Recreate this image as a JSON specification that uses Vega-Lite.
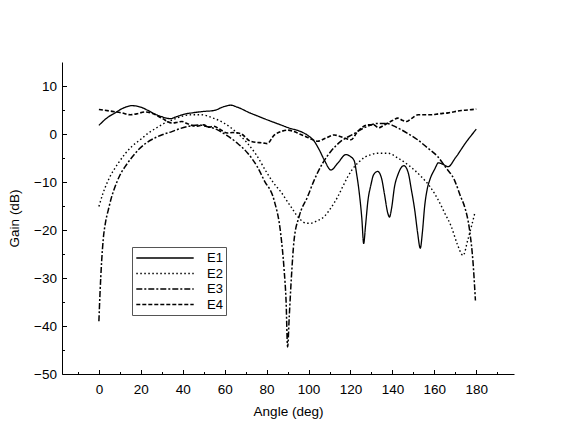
{
  "$schema": "https://vega.github.io/schema/vega-lite/v6.json",
  "width": 452,
  "height": 312,
  "autosize": "none",
  "padding": {"left": 62, "top": 62, "right": 52, "bottom": 54},
  "background": "white",
  "config": {
    "view": {"stroke": null},
    "font": "Liberation Sans",
    "axis": {
      "grid": false,
      "domainColor": "black",
      "tickColor": "black",
      "labelColor": "black",
      "titleColor": "black",
      "labelFont": "Liberation Sans",
      "titleFont": "Liberation Sans",
      "labelFontSize": 13.5,
      "titleFontSize": 13.5,
      "titleFontWeight": "normal"
    },
    "legend": {
      "orient": "none",
      "legendX": 70,
      "legendY": 185,
      "symbolType": "M-4.1,0H4.1",
      "symbolSize": 196,
      "symbolOffset": 22,
      "symbolStrokeColor": "black",
      "strokeColor": "#555",
      "padding": 3,
      "rowPadding": 0.5,
      "labelFont": "Liberation Sans",
      "labelFontSize": 13,
      "labelColor": "black",
      "labelOffset": 34
    }
  },
  "data": {
    "values": [
      {"s": "E1", "a": 0, "g": 1.8}, {"s": "E1", "a": 4, "g": 3.4}, {"s": "E1", "a": 7.7, "g": 4.4}, {"s": "E1", "a": 11.6, "g": 5.4},
      {"s": "E1", "a": 15.7, "g": 5.9}, {"s": "E1", "a": 20, "g": 5.6}, {"s": "E1", "a": 23, "g": 5.0}, {"s": "E1", "a": 27, "g": 4.1},
      {"s": "E1", "a": 30, "g": 3.6}, {"s": "E1", "a": 34, "g": 3.2}, {"s": "E1", "a": 37, "g": 3.6}, {"s": "E1", "a": 40.4, "g": 4.1},
      {"s": "E1", "a": 44.4, "g": 4.4}, {"s": "E1", "a": 50, "g": 4.7}, {"s": "E1", "a": 55, "g": 4.9}, {"s": "E1", "a": 59.6, "g": 5.7},
      {"s": "E1", "a": 62.8, "g": 6.0}, {"s": "E1", "a": 66, "g": 5.6}, {"s": "E1", "a": 72, "g": 4.4}, {"s": "E1", "a": 76, "g": 3.7},
      {"s": "E1", "a": 80, "g": 3.0}, {"s": "E1", "a": 86.7, "g": 1.9}, {"s": "E1", "a": 91, "g": 1.2}, {"s": "E1", "a": 96.3, "g": 0.5},
      {"s": "E1", "a": 100, "g": -0.4}, {"s": "E1", "a": 102.7, "g": -1.5}, {"s": "E1", "a": 105, "g": -3.2}, {"s": "E1", "a": 107.5, "g": -5.4},
      {"s": "E1", "a": 110.7, "g": -7.5}, {"s": "E1", "a": 113.9, "g": -6.1}, {"s": "E1", "a": 117.8, "g": -4.3}, {"s": "E1", "a": 120, "g": -4.7},
      {"s": "E1", "a": 121.8, "g": -5.6}, {"s": "E1", "a": 123, "g": -8.5}, {"s": "E1", "a": 124.2, "g": -12.3}, {"s": "E1", "a": 125.4, "g": -17.5},
      {"s": "E1", "a": 126.3, "g": -22.8}, {"s": "E1", "a": 127.2, "g": -19}, {"s": "E1", "a": 128.3, "g": -14}, {"s": "E1", "a": 129.8, "g": -10.5},
      {"s": "E1", "a": 131, "g": -8.5}, {"s": "E1", "a": 133, "g": -7.8}, {"s": "E1", "a": 134.8, "g": -9.2}, {"s": "E1", "a": 136.2, "g": -12.5},
      {"s": "E1", "a": 137.8, "g": -16.5}, {"s": "E1", "a": 138.6, "g": -17.3}, {"s": "E1", "a": 139.6, "g": -15.5}, {"s": "E1", "a": 141, "g": -11},
      {"s": "E1", "a": 142.6, "g": -8.5}, {"s": "E1", "a": 145.5, "g": -6.6}, {"s": "E1", "a": 147.5, "g": -8}, {"s": "E1", "a": 149, "g": -11.5},
      {"s": "E1", "a": 150.7, "g": -16}, {"s": "E1", "a": 152, "g": -20.5}, {"s": "E1", "a": 153.3, "g": -23.8}, {"s": "E1", "a": 154.3, "g": -20.5},
      {"s": "E1", "a": 155.4, "g": -15}, {"s": "E1", "a": 156.6, "g": -11.5}, {"s": "E1", "a": 157.8, "g": -9.6}, {"s": "E1", "a": 160.2, "g": -7.3},
      {"s": "E1", "a": 162, "g": -6.0}, {"s": "E1", "a": 164, "g": -6.3}, {"s": "E1", "a": 166.6, "g": -6.8}, {"s": "E1", "a": 170, "g": -5.0},
      {"s": "E1", "a": 175, "g": -1.8}, {"s": "E1", "a": 180, "g": 1.0},

      {"s": "E2", "a": 0, "g": -15.1}, {"s": "E2", "a": 2, "g": -12.3}, {"s": "E2", "a": 4.5, "g": -9.6}, {"s": "E2", "a": 9.2, "g": -6.1},
      {"s": "E2", "a": 15.7, "g": -2.6}, {"s": "E2", "a": 20, "g": -1.1}, {"s": "E2", "a": 23.6, "g": 0.2}, {"s": "E2", "a": 27.6, "g": 1.3},
      {"s": "E2", "a": 31.6, "g": 2.3}, {"s": "E2", "a": 35.5, "g": 3.0}, {"s": "E2", "a": 39.6, "g": 3.7}, {"s": "E2", "a": 44, "g": 4.0},
      {"s": "E2", "a": 49.2, "g": 4.0}, {"s": "E2", "a": 54, "g": 3.4}, {"s": "E2", "a": 59.6, "g": 2.3}, {"s": "E2", "a": 65, "g": 0.6},
      {"s": "E2", "a": 70.8, "g": -1.9}, {"s": "E2", "a": 75, "g": -4.3}, {"s": "E2", "a": 80.3, "g": -8.2}, {"s": "E2", "a": 83.5, "g": -10.3},
      {"s": "E2", "a": 86.7, "g": -12.0}, {"s": "E2", "a": 91.5, "g": -15.1}, {"s": "E2", "a": 96.3, "g": -17.9}, {"s": "E2", "a": 99, "g": -18.6},
      {"s": "E2", "a": 101, "g": -18.6}, {"s": "E2", "a": 104, "g": -18.1}, {"s": "E2", "a": 107.5, "g": -17.2}, {"s": "E2", "a": 110.5, "g": -15.5},
      {"s": "E2", "a": 113.9, "g": -13.1}, {"s": "E2", "a": 116.5, "g": -10.8}, {"s": "E2", "a": 118.7, "g": -8.9}, {"s": "E2", "a": 121, "g": -7.3},
      {"s": "E2", "a": 123.4, "g": -6.1}, {"s": "E2", "a": 126.6, "g": -4.9}, {"s": "E2", "a": 129.8, "g": -4.3}, {"s": "E2", "a": 133, "g": -4.0},
      {"s": "E2", "a": 137.8, "g": -4.0}, {"s": "E2", "a": 142.6, "g": -5.0}, {"s": "E2", "a": 148, "g": -6.6}, {"s": "E2", "a": 153.8, "g": -8.9},
      {"s": "E2", "a": 158, "g": -11.0}, {"s": "E2", "a": 161.8, "g": -13.7}, {"s": "E2", "a": 165, "g": -16.5}, {"s": "E2", "a": 168.1, "g": -19.3},
      {"s": "E2", "a": 171, "g": -23}, {"s": "E2", "a": 173.7, "g": -25.3}, {"s": "E2", "a": 176, "g": -22}, {"s": "E2", "a": 179.3, "g": -16.5},

      {"s": "E3", "a": 0, "g": -39}, {"s": "E3", "a": 0.5, "g": -33.5}, {"s": "E3", "a": 1.3, "g": -26.6}, {"s": "E3", "a": 2.1, "g": -21.8},
      {"s": "E3", "a": 3.2, "g": -18.3}, {"s": "E3", "a": 4.5, "g": -15.8}, {"s": "E3", "a": 6, "g": -13.2}, {"s": "E3", "a": 7.7, "g": -11},
      {"s": "E3", "a": 10, "g": -8.6}, {"s": "E3", "a": 12.5, "g": -6.8}, {"s": "E3", "a": 15.5, "g": -5.0}, {"s": "E3", "a": 18.8, "g": -3.3},
      {"s": "E3", "a": 22.5, "g": -1.9}, {"s": "E3", "a": 26.8, "g": -0.8}, {"s": "E3", "a": 30.5, "g": -0.1}, {"s": "E3", "a": 34.8, "g": 0.5},
      {"s": "E3", "a": 38.5, "g": 1.1}, {"s": "E3", "a": 42.8, "g": 1.6}, {"s": "E3", "a": 47.6, "g": 1.9}, {"s": "E3", "a": 51, "g": 1.6},
      {"s": "E3", "a": 56.4, "g": 0.9}, {"s": "E3", "a": 61, "g": -0.3}, {"s": "E3", "a": 66, "g": -1.9}, {"s": "E3", "a": 71, "g": -4.0},
      {"s": "E3", "a": 75.5, "g": -6.8}, {"s": "E3", "a": 79, "g": -9.8}, {"s": "E3", "a": 83.5, "g": -13.7}, {"s": "E3", "a": 86.7, "g": -20.7},
      {"s": "E3", "a": 88.3, "g": -28}, {"s": "E3", "a": 89.3, "g": -35}, {"s": "E3", "a": 90, "g": -44.4}, {"s": "E3", "a": 90.8, "g": -38},
      {"s": "E3", "a": 91.8, "g": -30}, {"s": "E3", "a": 93.1, "g": -22.1}, {"s": "E3", "a": 95.5, "g": -17.2}, {"s": "E3", "a": 99.5, "g": -13.1},
      {"s": "E3", "a": 102.7, "g": -9.6}, {"s": "E3", "a": 106.7, "g": -6.1}, {"s": "E3", "a": 110.7, "g": -3.6}, {"s": "E3", "a": 115.5, "g": -1.5},
      {"s": "E3", "a": 121, "g": -0.1}, {"s": "E3", "a": 126.6, "g": 1.3}, {"s": "E3", "a": 133, "g": 2.2}, {"s": "E3", "a": 137, "g": 2.2},
      {"s": "E3", "a": 142.4, "g": 1.3}, {"s": "E3", "a": 147, "g": 0.2}, {"s": "E3", "a": 152, "g": -1.2}, {"s": "E3", "a": 156.5, "g": -2.8},
      {"s": "E3", "a": 161.6, "g": -4.7}, {"s": "E3", "a": 165.5, "g": -7}, {"s": "E3", "a": 169.6, "g": -9.6}, {"s": "E3", "a": 172.5, "g": -13},
      {"s": "E3", "a": 174.4, "g": -15.1}, {"s": "E3", "a": 176.8, "g": -20}, {"s": "E3", "a": 178.5, "g": -27}, {"s": "E3", "a": 179.6, "g": -34.7},

      {"s": "E4", "a": 0, "g": 5.1}, {"s": "E4", "a": 5, "g": 4.8}, {"s": "E4", "a": 10.9, "g": 4.4}, {"s": "E4", "a": 15, "g": 4.0},
      {"s": "E4", "a": 18, "g": 4.2}, {"s": "E4", "a": 22, "g": 4.6}, {"s": "E4", "a": 26, "g": 4.2}, {"s": "E4", "a": 30, "g": 3.3},
      {"s": "E4", "a": 34.8, "g": 2.3}, {"s": "E4", "a": 37, "g": 2.4}, {"s": "E4", "a": 39.6, "g": 2.6}, {"s": "E4", "a": 42, "g": 2.2},
      {"s": "E4", "a": 44.4, "g": 1.8}, {"s": "E4", "a": 46.8, "g": 1.6}, {"s": "E4", "a": 50, "g": 1.9}, {"s": "E4", "a": 52.5, "g": 1.4},
      {"s": "E4", "a": 54.8, "g": 1.6}, {"s": "E4", "a": 58, "g": 0.9}, {"s": "E4", "a": 61.2, "g": 0.2}, {"s": "E4", "a": 64, "g": 0.3},
      {"s": "E4", "a": 67.5, "g": 0.1}, {"s": "E4", "a": 72.3, "g": -1.5}, {"s": "E4", "a": 78.7, "g": -1.9}, {"s": "E4", "a": 80.3, "g": -2.0},
      {"s": "E4", "a": 83.5, "g": -0.3}, {"s": "E4", "a": 87.5, "g": 0.6}, {"s": "E4", "a": 90, "g": 0.8}, {"s": "E4", "a": 96.3, "g": -0.1},
      {"s": "E4", "a": 100, "g": -0.8}, {"s": "E4", "a": 104.3, "g": -1.5}, {"s": "E4", "a": 108, "g": -0.9}, {"s": "E4", "a": 112.2, "g": -0.2},
      {"s": "E4", "a": 115, "g": -0.5}, {"s": "E4", "a": 117, "g": -0.8}, {"s": "E4", "a": 120.2, "g": -1.2}, {"s": "E4", "a": 123.4, "g": 0.5},
      {"s": "E4", "a": 126, "g": 1.5}, {"s": "E4", "a": 128.2, "g": 1.9}, {"s": "E4", "a": 131, "g": 1.9}, {"s": "E4", "a": 133.5, "g": 1.3},
      {"s": "E4", "a": 135.5, "g": 1.7}, {"s": "E4", "a": 137.8, "g": 2.3}, {"s": "E4", "a": 140, "g": 2.8}, {"s": "E4", "a": 142.6, "g": 3.3},
      {"s": "E4", "a": 145, "g": 2.8}, {"s": "E4", "a": 146.6, "g": 2.6}, {"s": "E4", "a": 149, "g": 3.2}, {"s": "E4", "a": 152.2, "g": 4.0},
      {"s": "E4", "a": 158.6, "g": 4.0}, {"s": "E4", "a": 162, "g": 4.2}, {"s": "E4", "a": 166.6, "g": 4.4}, {"s": "E4", "a": 172.9, "g": 4.9},
      {"s": "E4", "a": 176, "g": 5.0}, {"s": "E4", "a": 180, "g": 5.2}
    ]
  },
  "mark": {"type": "line", "color": "black", "interpolate": "monotone"},
  "encoding": {
    "x": {
      "field": "a",
      "type": "quantitative",
      "title": "Angle (deg)",
      "scale": {"domain": [-17.6, 198], "nice": false, "zero": false},
      "axis": {
        "values": [-10, 0, 10, 20, 30, 40, 50, 60, 70, 80, 90, 100, 110, 120, 130, 140, 150, 160, 170, 180, 190],
        "labelExpr": "datum.value % 20 === 0 && datum.value >= 0 && datum.value <= 180 ? datum.label : ''",
        "tickSize": {"condition": {"test": "datum.value % 20 !== 0", "value": -2.5}, "value": -4.5},
        "labelPadding": 13,
        "titlePadding": 8
      }
    },
    "y": {
      "field": "g",
      "type": "quantitative",
      "title": "Gain (dB)",
      "scale": {"domain": [-50, 15], "nice": false, "zero": false},
      "axis": {
        "values": [-50, -45, -40, -35, -30, -25, -20, -15, -10, -5, 0, 5, 10],
        "labelExpr": "datum.value % 10 === 0 ? datum.label : ''",
        "tickSize": {"condition": {"test": "datum.value % 10 !== 0", "value": -2.5}, "value": -4.5},
        "labelPadding": 10,
        "titlePadding": 12
      }
    },
    "strokeDash": {
      "field": "s",
      "type": "nominal",
      "title": null,
      "scale": {"domain": ["E1", "E2", "E3", "E4"], "range": [[1, 0], [1.5, 2.5], [6, 2, 2, 2], [4, 2]]}
    },
    "strokeWidth": {
      "field": "s",
      "type": "nominal",
      "title": null,
      "scale": {"domain": ["E1", "E2", "E3", "E4"], "range": [1.3, 1.6, 2, 2.6]}
    }
  }
}
